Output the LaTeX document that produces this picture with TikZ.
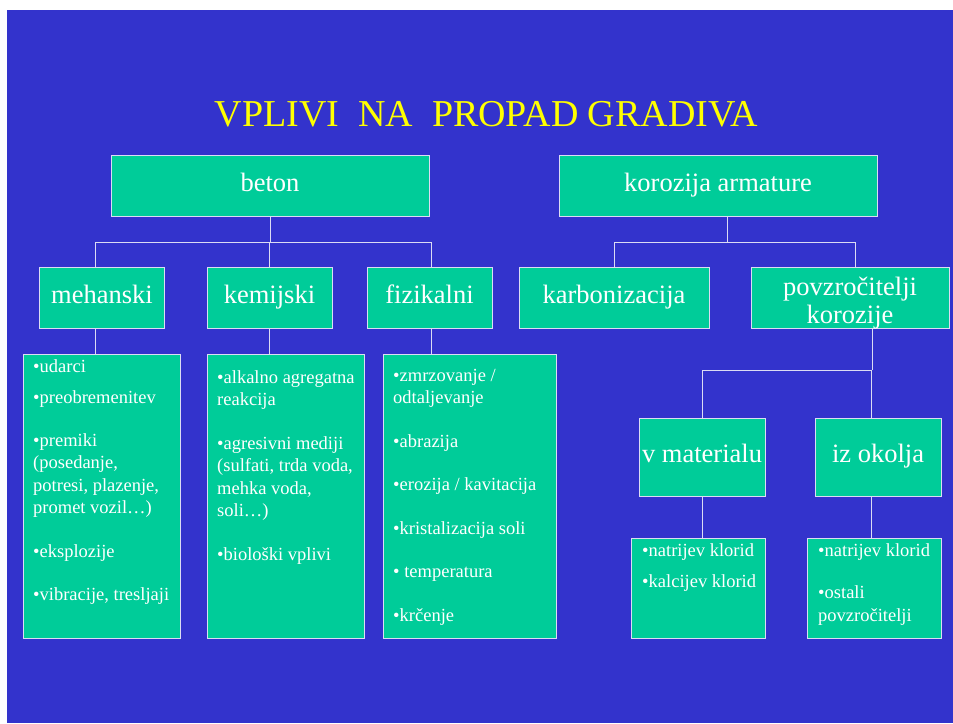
\documentclass[tikz,border=0pt]{standalone}
\usepackage{fontspec}
\setmainfont{Liberation Serif}
\usetikzlibrary{positioning}
\definecolor{cback}{HTML}{3333CC}
\definecolor{cgreen}{HTML}{00CC99}
\definecolor{cline}{HTML}{DCDCF4}
\definecolor{cyellow}{HTML}{FFFF00}
\tikzset{
  every picture/.style={x=1pt, y=-1pt},
  head/.style={draw=cline, fill=cgreen, line width=0.8pt, inner sep=0pt, minimum width=#1, minimum height=61pt,
    text=white, align=center, font=\fontsize{26.5}{28}\selectfont, text height=18.5pt, text depth=6.6pt},
  head/.default=125pt,
  listbox/.style={draw=cline, fill=cgreen, line width=0.8pt, inner sep=0pt, minimum width=#1, minimum height=284pt},
  listbox/.default=157pt,
  items/.style={anchor=north west, inner sep=0pt, text=white, align=left, font=\fontsize{18.5}{22.5}\selectfont},
  conn/.style={draw=cline, line width=1pt},
  title/.style={anchor=base, text=cyellow, font=\fontsize{38}{42}\selectfont},
}

\begin{document}
\begin{tikzpicture}
  \useasboundingbox (0,0) rectangle (953,723);
  \fill[white] (0,0) rectangle (953,723);
  \fill[cback] (7,10) rectangle (953,723);
  \node[title] (title) at (486.5,126) {VPLIVI\ \ NA\ \ PROPAD GRADIVA};
  % top row
  \node[head=318pt] (beton) at (270,185.5) {beton};
  \node[head=318pt] (korozija) at (718,185.5) {korozija armature};
  % second row
  \node[head] (mehanski) at (102,297.5) {mehanski};
  \node[head] (kemijski) at (269.5,297.5) {kemijski};
  \node[head] (fizikalni) at (429.5,297.5) {fizikalni};
  \node[head=190pt] (karbon) at (614,297.5) {karbonizacija};
  \node[head=198pt, text height=51pt, text depth=0pt] (povz) at (850,297.5) {povzročitelji\\korozije};
  \node[head=126pt, minimum height=78pt] (vmat) at (702,457) {v materialu};
  \node[head=126pt, minimum height=78pt] (izokolja) at (878,457) {iz okolja};
  % lists
  \node[listbox] (mehlist) at (101.5,496) {};
  \node[listbox] (kemlist) at (285.5,496) {};
  \node[listbox=173pt] (fizlist) at (469.5,496) {};
  \node[listbox=134pt, minimum height=100pt] (matlist) at (698,588) {};
  \node[listbox=134pt, minimum height=100pt] (okolist) at (874,588) {};
  \node[items] (mehtxt) at (33,359) {•udarci\\[9pt]•preobremenitev\\[20pt]•premiki\\(posedanje,\\potresi, plazenje,\\promet vozil…)\\[21pt]•eksplozije\\[21pt]•vibracije, tresljaji};
  \node[items] (kemtxt) at (217,370) {•alkalno agregatna\\reakcija\\[21pt]•agresivni mediji\\(sulfati, trda voda,\\mehka voda,\\soli…)\\[21pt]•biološki vplivi};
  \node[items] (fiztxt) at (393,369) {•zmrzovanje /\\odtaljevanje\\[21pt]•abrazija\\[21pt]•erozija / kavitacija\\[21pt]•kristalizacija soli\\[21pt]• temperatura\\[21pt]•krčenje};
  \node[items] (mattxt) at (642,543) {•natrijev klorid\\[9pt]•kalcijev klorid};
  \node[items] (okotxt) at (818,543) {•natrijev klorid\\[20pt]•ostali\\povzročitelji};
  % connectors
  \coordinate (bus-b) at (0,242);
  \coordinate (bus-k) at (0,242);
  \coordinate (bus-p) at (0,370);
  \draw[conn] (beton.south) -- (beton.south |- bus-b);
  \draw[conn] ([xshift=-7pt]mehanski.north) |- ([xshift=2pt]fizikalni.north |- bus-b) -- ([xshift=2pt]fizikalni.north);
  \draw[conn] (kemijski.north) -- (kemijski.north |- bus-b);
  \draw[conn] ([xshift=-7pt]mehanski.south) -- ([xshift=-7pt]mehanski.south |- mehlist.north);
  \draw[conn] (kemijski.south) -- (kemijski.south |- kemlist.north);
  \draw[conn] ([xshift=2pt]fizikalni.south) -- ([xshift=2pt]fizikalni.south |- fizlist.north);
  \draw[conn] ([xshift=9pt]korozija.south) -- ([xshift=9pt]korozija.south |- bus-k);
  \draw[conn] (karbon.north) |- ([xshift=5pt]povz.north |- bus-k) -- ([xshift=5pt]povz.north);
  \draw[conn] ([xshift=22pt]povz.south) -- ([xshift=22pt]povz.south |- bus-p);
  \draw[conn] (vmat.north) |- ([xshift=-7pt]izokolja.north |- bus-p) -- ([xshift=-7pt]izokolja.north);
  \draw[conn] (vmat.south) -- (vmat.south |- matlist.north);
  \draw[conn] ([xshift=-7pt]izokolja.south) -- ([xshift=-7pt]izokolja.south |- okolist.north);
\end{tikzpicture}
\end{document}
